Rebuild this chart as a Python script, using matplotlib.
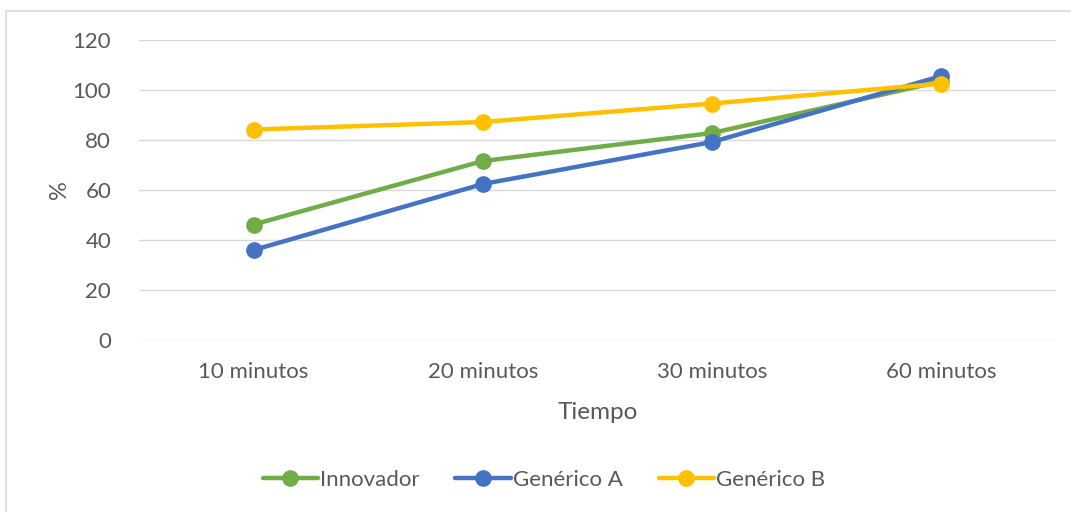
import matplotlib.pyplot as plt
from matplotlib.patches import Rectangle

plt.rcParams['font.family'] = ['Lato', 'DejaVu Sans']

tiempos = ['10 minutos', '20 minutos', '30 minutos', '60 minutos']
innovador = [46.2, 71.6, 82.8, 103.5]
generico_a = [36.0, 62.4, 79.2, 105.6]
generico_b = [84.2, 87.2, 94.6, 102.6]

series = [
    ('Innovador', innovador, '#70AD47'),
    ('Genérico A', generico_a, '#4472C4'),
    ('Genérico B', generico_b, '#FFC000'),
]

fig = plt.figure(figsize=(10.71, 5.12), dpi=100)
fig.patches.append(Rectangle((6 / 1071, -0.1), 1.2, 1 - 11 / 512 + 0.1,
                             transform=fig.transFigure, fill=False,
                             edgecolor='#D9D9D9', linewidth=1.2))

ax = fig.add_axes([139 / 1071, 1 - 340 / 512, (1056 - 139) / 1071, 300 / 512])
x = range(len(tiempos))
for nombre, vals, color in series:
    ax.plot(x, vals, color=color, linewidth=3.2, marker='o', markersize=11,
            label=nombre, solid_capstyle='round')

ax.set_xlim(-0.5, len(tiempos) - 0.5)
ax.set_ylim(0, 120)
ax.set_yticks(range(0, 121, 20))
ax.set_xticks(list(x))
ax.set_xticklabels(tiempos)
ax.grid(axis='y', color='#D9D9D9', linewidth=1)
ax.set_axisbelow(True)
for s in ax.spines.values():
    s.set_visible(False)
ax.tick_params(length=0, labelsize=16, colors='#595959', pad=20)
ax.tick_params(axis='x', pad=16)
ax.set_xlabel('Tiempo', fontsize=17.5, color='#595959', labelpad=14)
ax.set_ylabel('%', fontsize=17, color='#595959', labelpad=2)

fig.legend(loc='center', bbox_to_anchor=(0.508, 1 - 480 / 512), ncol=3,
           frameon=False, fontsize=16, labelcolor='#595959',
           handlelength=2.5, handletextpad=0.1, columnspacing=1.6)

fig.savefig('out.png', dpi=100)
